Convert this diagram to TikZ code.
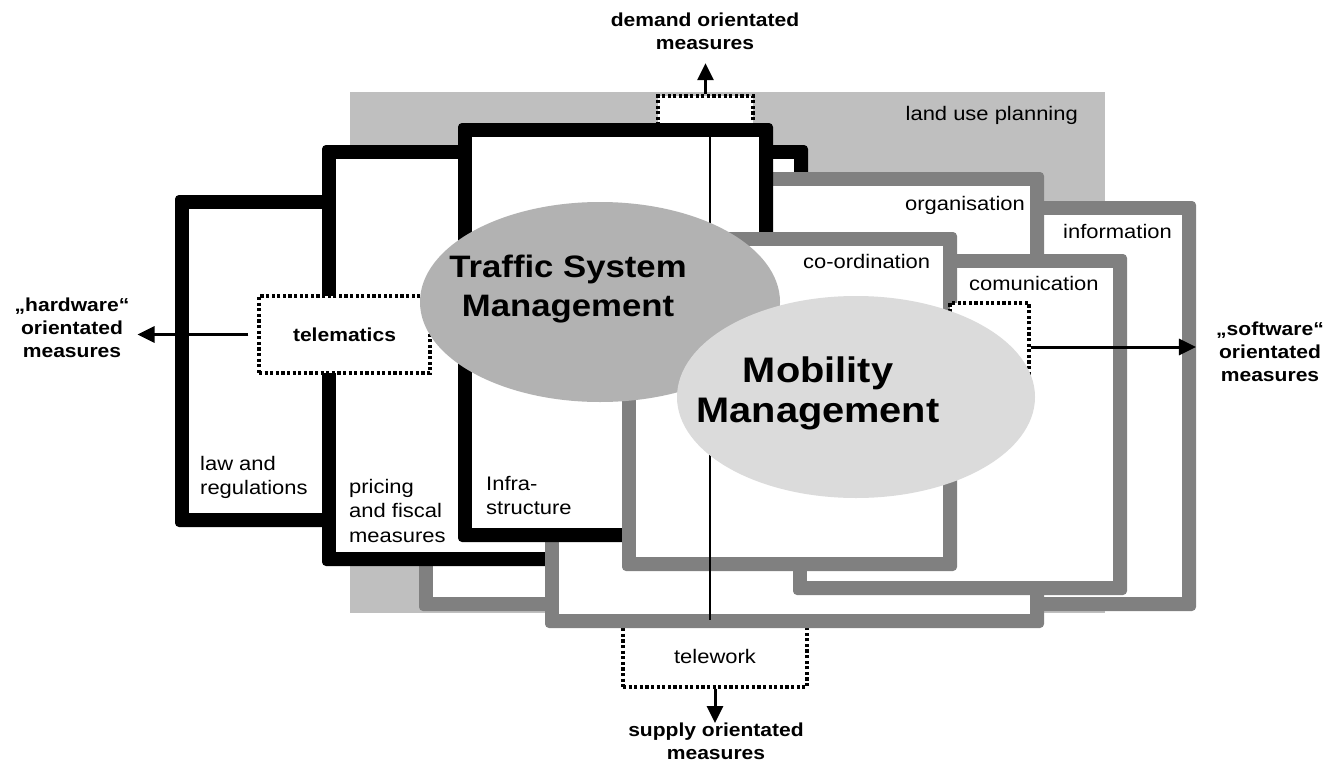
\documentclass[tikz,border=0pt]{standalone}
\usepackage{fontspec}
\setmainfont[FakeStretch=1.12]{Liberation Sans}
\usetikzlibrary{shapes.geometric,arrows.meta}

\definecolor{landgray}{gray}{0.75}
\definecolor{framegray}{gray}{0.5}
\definecolor{tsmgray}{gray}{0.70}
\definecolor{mmgray}{gray}{0.86}

\tikzset{
  dotbox/.style={draw, fill=white, line width=3.2pt, dash pattern=on 3.2pt off 2.4pt, inner sep=0pt},
  paneltext/.style={inner sep=0pt, align=left, font=\fontsize{19.6}{24.5}\selectfont},
  measure/.style={inner sep=0pt, align=center, font=\fontsize{18.8}{23}\selectfont\bfseries},
  blob/.style={ellipse, inner sep=0pt, minimum width=360pt, minimum height=200pt},
  bigtext/.style={inner sep=0pt, align=center, anchor=north},
  outarrow/.style={line width=3pt, -{Triangle[length=17pt,width=16pt]}}
}

\begin{document}
\begin{tikzpicture}[x=1pt, y=-1pt]
  \useasboundingbox (0,0) rectangle (1332,768);
  \fill[landgray] (350,92) rectangle (1105,613);
  \node[paneltext, anchor=base east] (landuse) at (1078,120) {land use planning};
  \node[dotbox, minimum width=95pt, minimum height=30pt] (demandbox) at (705.5,111) {};
  \node[dotbox, paneltext, minimum width=184pt, minimum height=61pt] (telework) at (715,656.5) {telework};
  \foreach \col/\xa/\ya/\xb/\yb in {black/175/195/400/527, framegray/419/201/1196/611,
    black/322/145/808/566, framegray/545/172/1044/628, black/458/123/773/542,
    framegray/793/254/1127/595, framegray/622/232/957/571}
  {
    \fill[\col, rounded corners=4pt] (\xa,\ya) rectangle (\xb,\yb);
    \fill[white] ({\xa+14},{\ya+14}) rectangle ({\xb-14},{\yb-14});
  }
  \node[paneltext, anchor=north west] (law) at (200,455.7) {law and\\regulations};
  \node[paneltext, anchor=north west] (pricing) at (349,479) {pricing\\and fiscal\\measures};
  \node[paneltext, anchor=north west] (infra) at (486,475.7) {Infra-\\structure};
  \node[paneltext, anchor=base east] (organisation) at (1025,210) {organisation};
  \node[paneltext, anchor=base west] (information) at (1063,238) {information};
  \node[paneltext, anchor=base west] (coordination) at (803,268) {co-ordination};
  \node[paneltext, anchor=base west] (comunication) at (969,290) {comunication};
  \node[dotbox, measure, minimum width=171pt, minimum height=77pt] (telematics) at (344.5,334.5) {telematics};
  \node[dotbox, minimum width=79pt, minimum height=88pt] (comubox) at (989.5,347) {};
  \draw[line width=2pt, shorten >=4pt] ([xshift=4.5pt]demandbox.south) -- ([xshift=-5pt]telework.north);
  \node[blob, fill=tsmgray] (tsm) at (600,302) {};
  \node[bigtext, font=\fontsize{31}{39}\selectfont\bfseries] (tsmtext) at (568,255) {Traffic System\\Management};
  \node[blob, fill=mmgray, minimum width=358pt, minimum height=202pt] (mm) at (856,397) {};
  \node[bigtext, font=\fontsize{35.5}{40}\selectfont\bfseries] (mmtext) at (818,357) {Mobility\\Management};
  \node[measure, anchor=north] (demand) at (705,13) {demand orientated\\measures};
  \node[measure, anchor=north] (supply) at (716,723) {supply orientated\\measures};
  \node[measure, anchor=north] (hardware) at (72,298) {„hardware“\\orientated\\measures};
  \node[measure, anchor=north] (software) at (1270,322) {„software“\\orientated\\measures};
  \draw[outarrow, shorten >=13pt] (demandbox.north) -- (demandbox.north |- demand.south);
  \draw[outarrow] (telework.south) -- (telework.south |- supply.north);
  \draw[outarrow, shorten <=9pt, shorten >=8pt] (telematics.west) -- (telematics.west -| hardware.east);
  \draw[outarrow, shorten >=20pt] (comubox.east) -- (comubox.east -| software.west);
\end{tikzpicture}
\end{document}
